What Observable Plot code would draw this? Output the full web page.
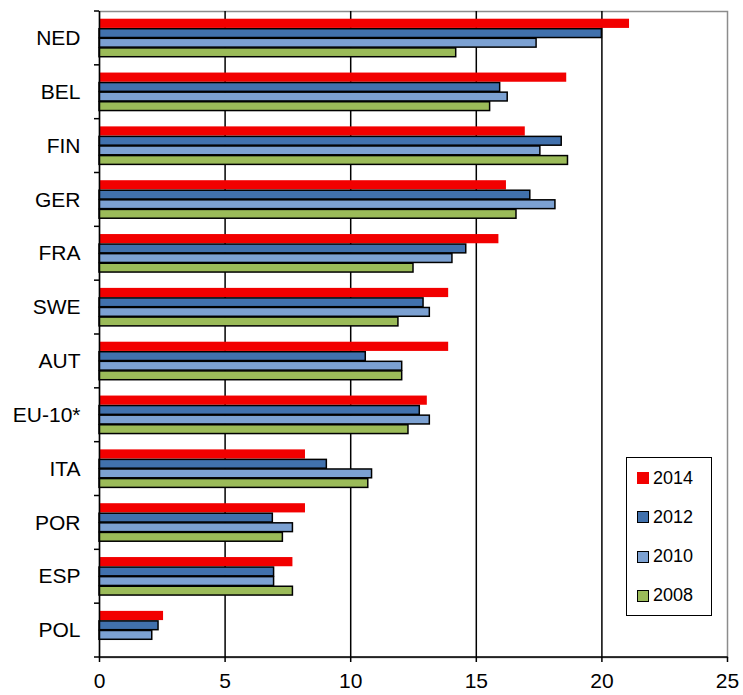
<!DOCTYPE html>
<html><head><meta charset="utf-8">
<script src="https://cdn.jsdelivr.net/npm/d3@7"></script>
<script src="https://cdn.jsdelivr.net/npm/@observablehq/plot@0.6"></script>
<style>
body{margin:0;background:#fff;}
#wrap{position:relative;width:743px;height:695px;}
.legend{position:absolute;left:626px;top:457px;width:84px;height:157px;border:1.5px solid #000;background:#fff;font-family:"Liberation Sans",Arial,sans-serif;font-size:18px;color:#000;}
.item{position:absolute;left:10px;height:20px;display:flex;align-items:center;}
.sw{width:12px;height:12px;box-sizing:border-box;margin-right:4px;}
</style></head>
<body><div id="wrap"></div>
<script>
const countries = ["NED","BEL","FIN","GER","FRA","SWE","AUT","EU-10*","ITA","POR","ESP","POL"];
const years = ["2014","2012","2010","2008"];
const v2014 = [21.1,18.6,16.95,16.2,15.9,13.9,13.9,13.05,8.2,8.2,7.7,2.55];
const v2012 = [20.0,15.95,18.4,17.15,14.6,12.9,10.6,12.75,9.05,6.9,6.95,2.35];
const v2010 = [17.4,16.25,17.55,18.15,14.05,13.15,12.05,13.15,10.85,7.7,6.95,2.1];
const v2008 = [14.2,15.55,18.65,16.6,12.5,11.9,12.05,12.3,10.7,7.3,7.7,null];
const xTicks = [0,5,10,15,20,25];
const colors = ["#f20000","#4171ad","#7ca1d2","#9bbb59"];

const series = [v2014, v2012, v2010, v2008];
const W = 743, H = 695, mt = 11, mb = 38, ml = 99, mr = 16;
const bw = (H - mt - mb) / countries.length;
const step = 9.6;
const outer = (bw - years.length * step) / 2;

const barMarks = series.map((vals, i) => {
  const data = countries.map((c, j) => ({country: c, value: vals[j], year: years[i]})).filter(d => d.value != null);
  const red = i === 0;
  return Plot.barX(data, {
    y: "country", x1: 0, x2: "value",
    fill: colors[i],
    stroke: red ? "none" : "#000",
    strokeWidth: 1.5,
    insetTop: outer + i * step + (red ? 0 : 0.4),
    insetBottom: bw - outer - (i + 1) * step + 0.4
  });
});

const chart = Plot.plot({
  width: W, height: H,
  marginTop: mt, marginBottom: mb, marginLeft: ml, marginRight: mr,
  style: {fontFamily: "'Liberation Sans', Arial, sans-serif", fontSize: "21px", background: "#fff", color: "#000"},
  x: {domain: [0, 25], label: null},
  y: {domain: countries, padding: 0, round: false, label: null},
  marks: [
    Plot.frame({stroke: "#8c8c8c", strokeWidth: 1.5}),
    Plot.ruleX([5, 10, 15, 20], {stroke: "#000", strokeWidth: 1.5}),
    ...barMarks,
    Plot.ruleX([0], {stroke: "#000", strokeWidth: 1.5}),
    Plot.barX(countries, {y: d => d, x1: 0, x2: 0, insetLeft: -5, insetTop: -0.75, insetBottom: bw - 0.75, fill: "#000"}),
    Plot.barX(countries.slice(-1), {y: d => d, x1: 0, x2: 25, insetLeft: -5, insetRight: -0.75, insetTop: bw - 0.75, insetBottom: -0.75, fill: "#000"}),
    Plot.axisY({tickSize: 0, tickPadding: 19, fontSize: 21, label: null}),
    Plot.axisX({ticks: xTicks, tickSize: 5, tickPadding: 11, stroke: "#000", strokeWidth: 1.5, fontSize: 21, label: null})
  ]
});
const wrap = document.getElementById("wrap");
wrap.appendChild(chart);

const legend = document.createElement("div");
legend.className = "legend";
years.forEach((y, i) => {
  const it = document.createElement("div");
  it.className = "item";
  it.style.top = (10 + i * 39.3) + "px";
  const sw = document.createElement("div");
  sw.className = "sw";
  sw.style.background = colors[i];
  if (i > 0) sw.style.border = "1.5px solid #000";
  const t = document.createElement("span");
  t.textContent = y;
  it.appendChild(sw); it.appendChild(t);
  legend.appendChild(it);
});
wrap.appendChild(legend);
</script></body></html>
